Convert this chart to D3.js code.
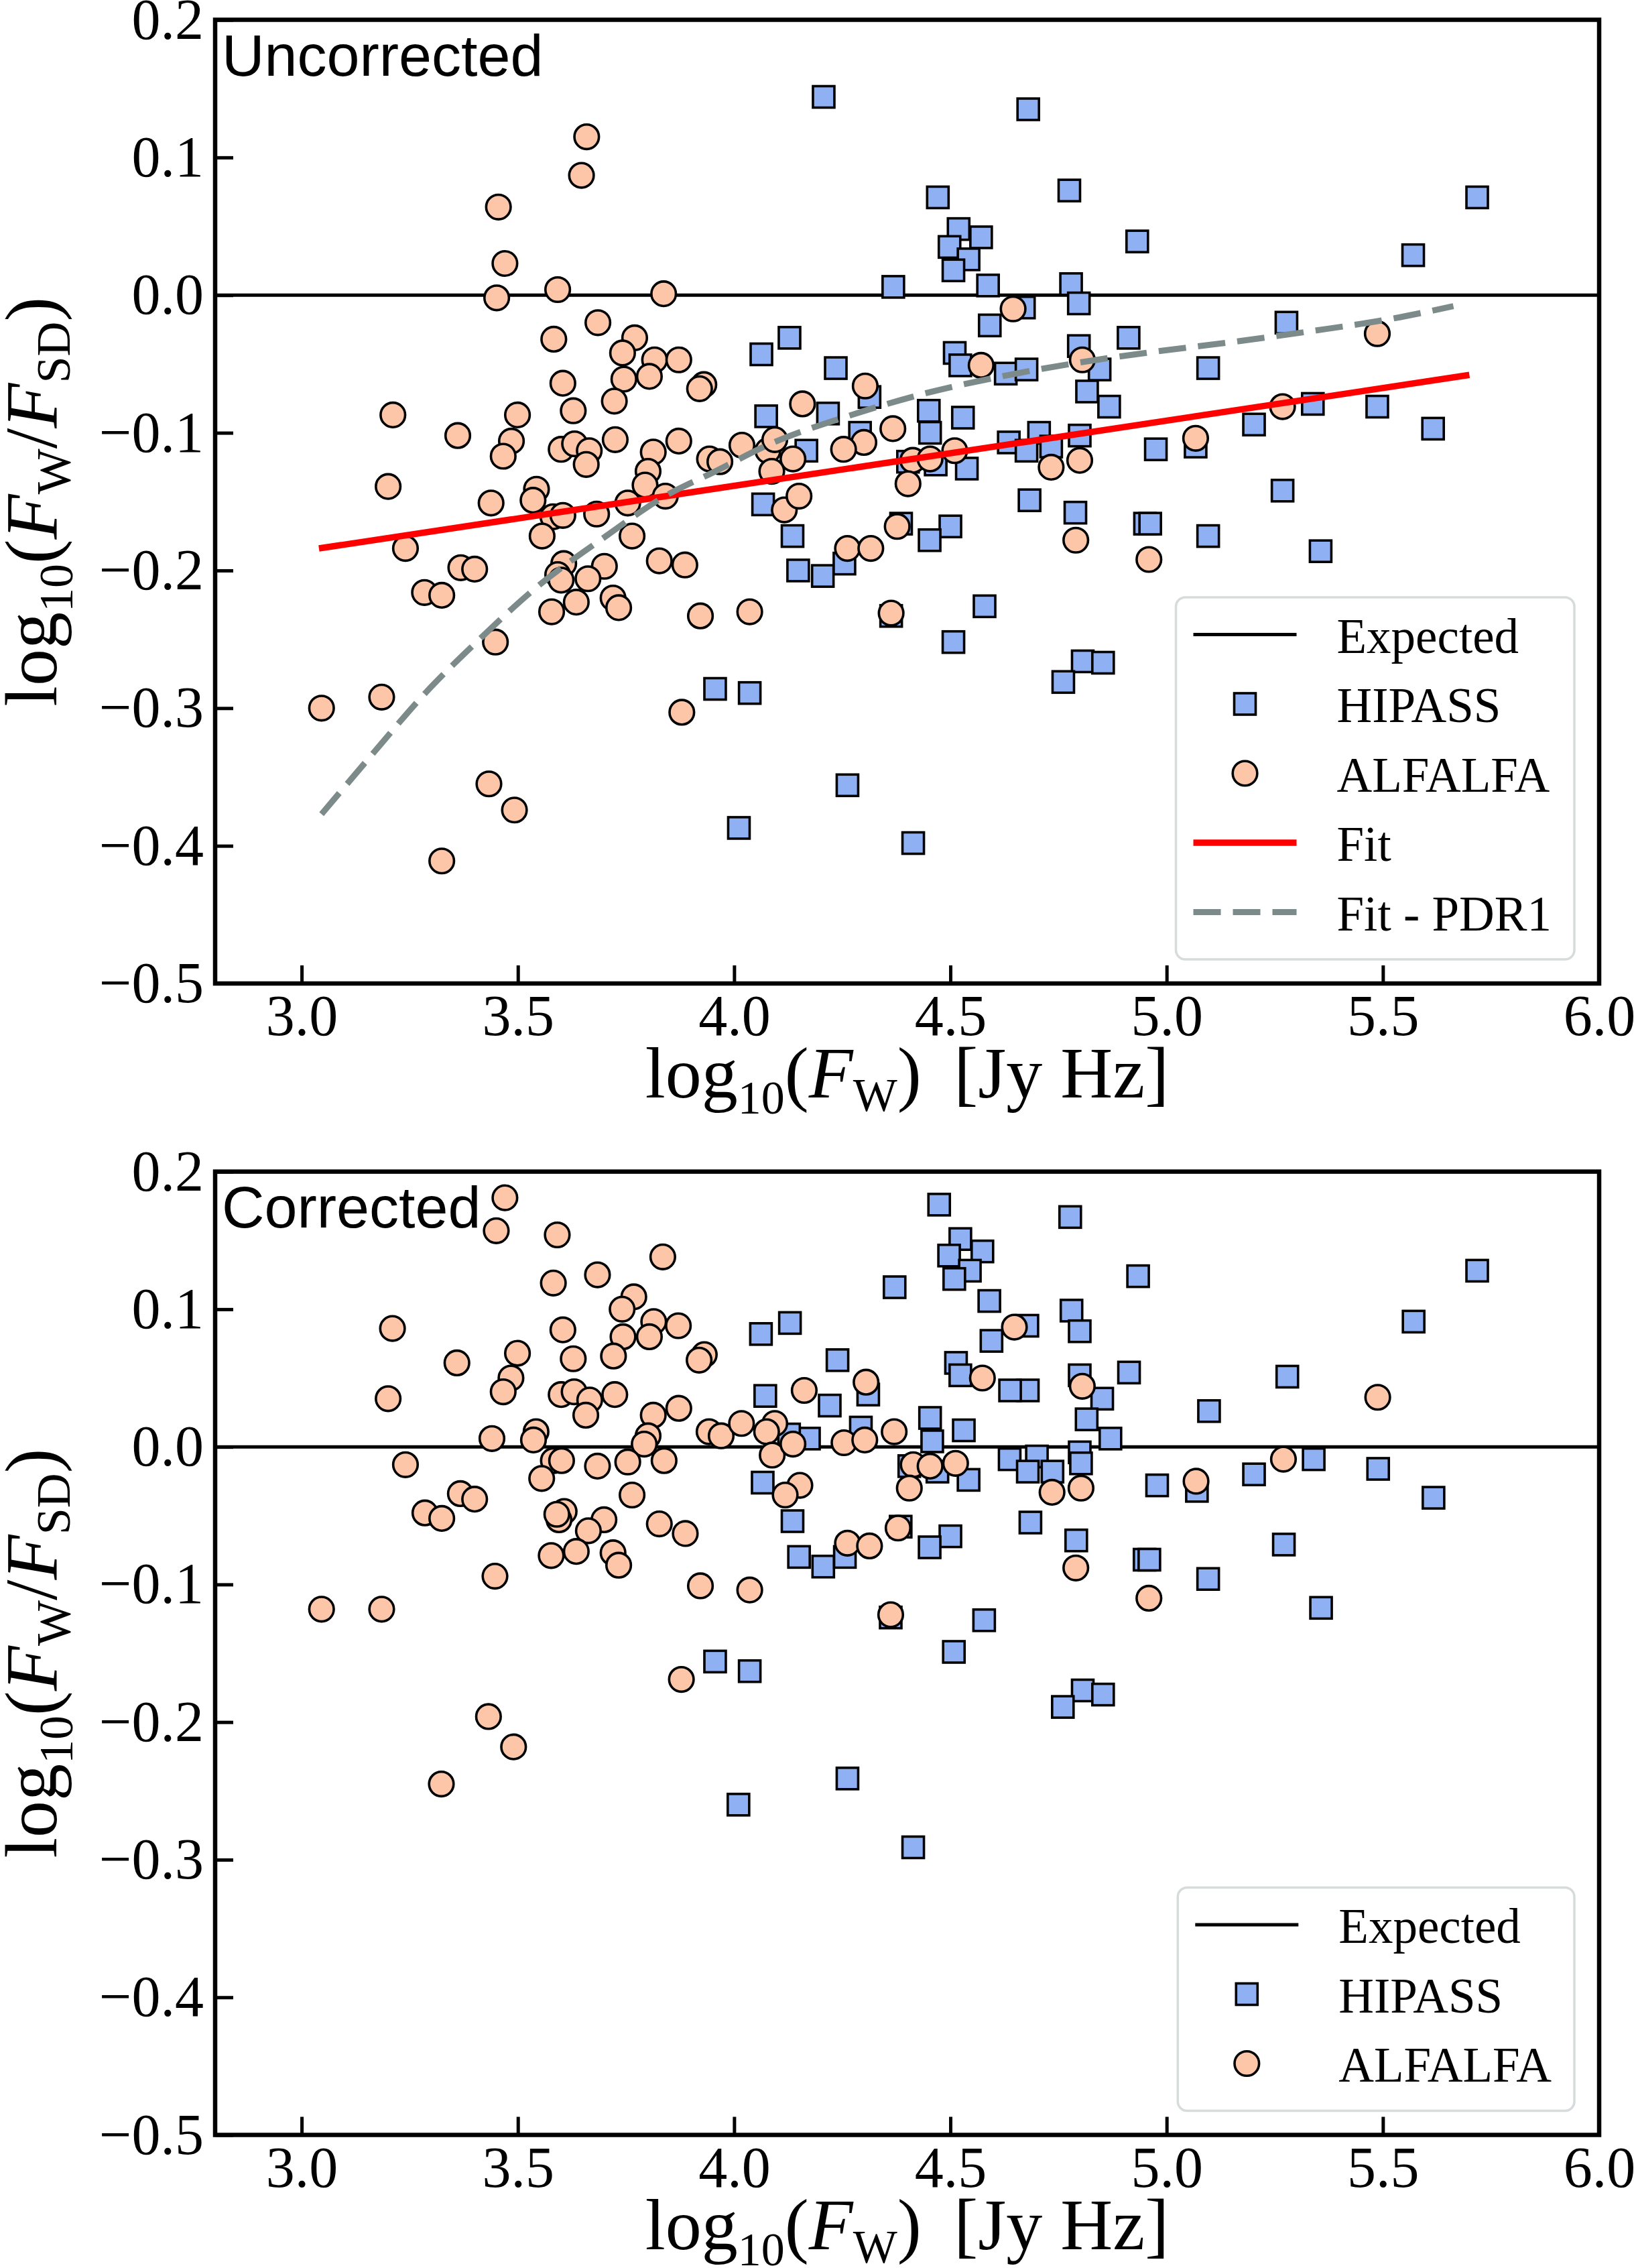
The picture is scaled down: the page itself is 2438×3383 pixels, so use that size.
<!DOCTYPE html>
<html><head><meta charset="utf-8">
<script src="https://cdn.jsdelivr.net/npm/d3@7"></script>
<style>html,body{margin:0;padding:0;background:#fff;}</style>
</head><body>
<svg id="chart" width="2438" height="3383" xmlns="http://www.w3.org/2000/svg"></svg>
<script>
// ---------------- DATA ----------------
const xTicks = [3.0, 3.5, 4.0, 4.5, 5.0, 5.5, 6.0];
const yTicks = [-0.5, -0.4, -0.3, -0.2, -0.1, 0.0, 0.1, 0.2];
const xDomain = [2.8, 6.0];
const yDomain = [-0.5, 0.2];

// [log10(F_W), log10(F_W/F_SD)] — top panel (uncorrected)
const hipassUncorrected = [[4.063,-0.043],[4.128,-0.031],[4.074,-0.088],[4.067,-0.152],[4.207,0.144],[4.680,0.135],[4.471,0.071],[4.775,0.076],[5.718,0.071],[4.932,0.039],[5.570,0.029],[4.519,0.048],[4.571,0.042],[4.498,0.035],[4.542,0.026],[4.507,0.018],[4.368,0.006],[4.587,0.007],[4.779,0.008],[4.797,-0.006],[4.670,-0.009],[4.591,-0.022],[4.510,-0.042],[4.523,-0.051],[4.797,-0.037],[4.912,-0.031],[5.277,-0.020],[4.235,-0.053],[4.628,-0.057],[4.676,-0.054],[4.845,-0.054],[5.096,-0.053],[4.816,-0.070],[4.313,-0.074],[4.217,-0.086],[4.867,-0.081],[4.450,-0.084],[4.529,-0.089],[5.202,-0.094],[5.338,-0.079],[5.487,-0.081],[5.616,-0.097],[4.291,-0.100],[4.453,-0.100],[4.705,-0.100],[4.799,-0.102],[4.635,-0.107],[4.733,-0.110],[4.975,-0.112],[5.067,-0.110],[4.676,-0.113],[4.167,-0.113],[4.402,-0.121],[4.466,-0.123],[4.538,-0.126],[5.268,-0.142],[4.683,-0.149],[4.789,-0.158],[4.135,-0.175],[4.148,-0.200],[3.956,-0.286],[4.036,-0.289],[4.011,-0.387],[4.205,-0.204],[4.255,-0.195],[4.386,-0.166],[4.500,-0.168],[4.452,-0.178],[4.950,-0.166],[4.962,-0.166],[5.096,-0.175],[5.356,-0.186],[4.579,-0.226],[4.363,-0.233],[4.507,-0.252],[4.806,-0.266],[4.853,-0.267],[4.761,-0.281],[4.262,-0.356],[4.414,-0.398]];

const alfalfaUncorrected = [[3.659,0.115],[3.647,0.087],[3.455,0.064],[3.470,0.023],[3.451,-0.002],[3.592,0.004],[3.837,0.001],[3.685,-0.020],[3.583,-0.032],[3.770,-0.031],[3.742,-0.042],[3.816,-0.047],[3.872,-0.047],[3.745,-0.061],[3.804,-0.059],[3.930,-0.065],[3.920,-0.068],[3.604,-0.064],[3.723,-0.077],[3.628,-0.084],[3.499,-0.087],[3.211,-0.087],[3.361,-0.102],[3.485,-0.106],[3.466,-0.117],[3.600,-0.112],[3.631,-0.108],[3.665,-0.113],[3.658,-0.123],[3.725,-0.105],[3.813,-0.114],[3.872,-0.106],[3.801,-0.128],[3.794,-0.138],[3.841,-0.146],[3.754,-0.151],[3.543,-0.141],[3.200,-0.139],[3.943,-0.119],[3.967,-0.121],[4.018,-0.109],[4.078,-0.113],[4.094,-0.105],[4.136,-0.119],[4.087,-0.128],[4.158,-0.079],[3.438,-0.151],[3.535,-0.149],[3.581,-0.161],[3.604,-0.160],[3.682,-0.159],[3.556,-0.175],[3.764,-0.175],[3.240,-0.184],[3.368,-0.198],[3.400,-0.199],[3.606,-0.195],[3.592,-0.203],[3.600,-0.207],[3.700,-0.197],[3.662,-0.206],[3.827,-0.193],[3.886,-0.196],[3.284,-0.216],[3.324,-0.218],[3.578,-0.230],[3.635,-0.223],[3.720,-0.220],[3.733,-0.227],[3.922,-0.233],[4.036,-0.230],[3.448,-0.252],[3.046,-0.300],[3.185,-0.292],[3.879,-0.303],[3.433,-0.355],[3.492,-0.374],[3.324,-0.411],[4.116,-0.156],[4.150,-0.146],[4.645,-0.010],[5.487,-0.028],[4.571,-0.051],[4.805,-0.047],[4.303,-0.066],[4.367,-0.097],[4.300,-0.107],[4.253,-0.112],[4.510,-0.113],[4.413,-0.120],[4.453,-0.119],[4.733,-0.125],[4.799,-0.120],[5.268,-0.081],[5.067,-0.104],[4.402,-0.137],[4.377,-0.168],[4.262,-0.184],[4.316,-0.184],[4.790,-0.178],[4.959,-0.192],[4.363,-0.231]];

// bottom panel (corrected)
const hipassCorrected = [[4.474,0.176],[4.523,0.151],[4.574,0.142],[4.497,0.139],[4.545,0.128],[4.509,0.122],[4.371,0.116],[4.590,0.106],[4.678,0.088],[4.595,0.077],[4.129,0.090],[4.062,0.082],[4.239,0.063],[4.513,0.061],[4.523,0.052],[4.072,0.037],[4.221,0.030],[4.310,0.038],[4.453,0.021],[4.531,0.012],[4.458,0.004],[4.293,0.014],[4.173,0.006],[4.127,0.009],[4.637,-0.009],[4.700,-0.007],[4.679,-0.018],[4.405,-0.014],[4.470,-0.018],[4.542,-0.024],[4.066,-0.026],[4.135,-0.054],[4.685,-0.055],[4.385,-0.058],[4.500,-0.065],[4.452,-0.073],[4.150,-0.080],[4.206,-0.087],[4.256,-0.080],[4.777,0.167],[4.934,0.124],[5.718,0.128],[4.780,0.099],[4.799,0.084],[5.571,0.091],[4.799,0.052],[4.913,0.054],[4.679,0.041],[4.638,0.041],[5.279,0.051],[4.851,0.035],[4.815,0.020],[5.098,0.026],[4.870,0.006],[4.736,-0.018],[4.799,-0.004],[4.802,-0.012],[5.340,-0.009],[5.489,-0.016],[5.617,-0.037],[5.202,-0.020],[4.978,-0.028],[5.070,-0.032],[4.791,-0.068],[5.271,-0.071],[4.949,-0.082],[4.960,-0.082],[5.096,-0.096],[4.362,-0.124],[3.956,-0.156],[4.036,-0.163],[4.262,-0.241],[4.010,-0.260],[4.414,-0.291],[4.578,-0.126],[4.508,-0.149],[5.357,-0.117],[4.806,-0.177],[4.853,-0.180],[4.760,-0.189]];

const alfalfaCorrected = [[3.470,0.181],[3.450,0.157],[3.591,0.154],[3.582,0.119],[3.684,0.125],[3.835,0.138],[3.768,0.109],[3.741,0.100],[3.210,0.086],[3.604,0.085],[3.814,0.091],[3.804,0.080],[3.743,0.080],[3.871,0.088],[3.359,0.061],[3.499,0.068],[3.628,0.064],[3.721,0.066],[3.484,0.050],[3.466,0.040],[3.200,0.035],[3.600,0.038],[3.630,0.040],[3.666,0.034],[3.657,0.023],[3.724,0.038],[3.813,0.023],[3.872,0.028],[3.801,0.008],[3.792,0.002],[3.440,0.006],[3.542,0.011],[3.536,0.005],[3.582,-0.010],[3.601,-0.010],[3.555,-0.023],[3.684,-0.014],[3.754,-0.011],[3.838,-0.010],[3.240,-0.013],[3.367,-0.034],[3.400,-0.038],[3.285,-0.048],[3.324,-0.052],[3.764,-0.035],[3.607,-0.047],[3.595,-0.053],[3.590,-0.049],[3.699,-0.053],[3.663,-0.061],[3.827,-0.056],[3.577,-0.079],[3.635,-0.076],[3.720,-0.077],[3.733,-0.086],[3.447,-0.094],[3.931,0.067],[3.919,0.063],[3.887,-0.063],[3.922,-0.101],[4.036,-0.104],[3.942,0.011],[3.970,0.008],[4.017,0.017],[4.094,0.017],[4.075,0.011],[4.088,-0.006],[4.136,0.002],[4.162,0.041],[4.305,0.047],[4.254,0.003],[4.302,0.005],[4.370,0.011],[4.152,-0.028],[4.118,-0.035],[4.262,-0.070],[4.313,-0.072],[4.379,-0.059],[4.414,-0.013],[4.453,-0.014],[4.512,-0.012],[4.405,-0.030],[4.574,0.050],[4.648,0.087],[4.805,0.044],[5.488,0.036],[5.270,-0.009],[5.068,-0.025],[4.735,-0.033],[4.802,-0.030],[4.790,-0.088],[4.959,-0.110],[3.046,-0.118],[3.185,-0.118],[4.362,-0.122],[3.878,-0.169],[3.432,-0.196],[3.490,-0.218],[3.323,-0.245]];

const fitLine = [[3.04,-0.184],[5.70,-0.058]];
const fitPDR1 = [[3.046,-0.377],[3.162,-0.334],[3.286,-0.289],[3.411,-0.250],[3.544,-0.212],[3.695,-0.177],[3.846,-0.145],[3.950,-0.129],[4.084,-0.108],[4.262,-0.088],[4.434,-0.072],[4.619,-0.059],[4.797,-0.049],[4.975,-0.041],[5.153,-0.034],[5.338,-0.026],[5.523,-0.017],[5.663,-0.008]];
const expectedValue = 0.0;

const panelTitles = ["Uncorrected", "Corrected"];
const legendTop = ["Expected", "HIPASS", "ALFALFA", "Fit", "Fit - PDR1"];
const legendBottom = ["Expected", "HIPASS", "ALFALFA"];

// ---------------- STYLE ----------------
const W = 2438, H = 3383;
const L = 321, R = 2386;
const SERIF = "'Liberation Serif','DejaVu Serif',serif";
const SANS = "'Liberation Sans',Arial,Helvetica,sans-serif";
const BLUE = "#8fb0f3", PEACH = "#fdc6a9", RED = "#ff0000", GREY = "#7c8a8a";

const svg = d3.select("#chart");
svg.append("rect").attr("width", W).attr("height", H).attr("fill", "#fff");

const x = d3.scaleLinear().domain(xDomain).range([L, R]);

const panels = [
  {top: 29.5, bottom: 1467, title: panelTitles[0], hip: hipassUncorrected, alf: alfalfaUncorrected, fits: true, legend: legendTop},
  {top: 1747.6, bottom: 3184.5, title: panelTitles[1], hip: hipassCorrected, alf: alfalfaCorrected, fits: false, legend: legendBottom}
];

panels.forEach((p, pi) => {
  const y = d3.scaleLinear().domain(yDomain).range([p.bottom, p.top]);
  const g = svg.append("g");
  const clipId = "clip" + pi;
  g.append("clipPath").attr("id", clipId).append("rect")
    .attr("x", L).attr("y", p.top).attr("width", R - L).attr("height", p.bottom - p.top);
  const data = g.append("g").attr("clip-path", `url(#${clipId})`);

  // expected line
  data.append("line")
    .attr("x1", x(xDomain[0])).attr("x2", x(xDomain[1]))
    .attr("y1", y(expectedValue)).attr("y2", y(expectedValue))
    .attr("stroke", "#000").attr("stroke-width", 5);

  const sq = 32;
  data.append("g").selectAll("rect").data(p.hip).join("rect")
    .attr("x", d => x(d[0]) - sq / 2).attr("y", d => y(d[1]) - sq / 2)
    .attr("width", sq).attr("height", sq)
    .attr("fill", BLUE).attr("stroke", "#000").attr("stroke-width", 3.6);

  data.append("g").selectAll("circle").data(p.alf).join("circle")
    .attr("cx", d => x(d[0])).attr("cy", d => y(d[1])).attr("r", 18.3)
    .attr("fill", PEACH).attr("stroke", "#000").attr("stroke-width", 3.6);

  if (p.fits) {
    const line = d3.line().x(d => x(d[0])).y(d => y(d[1]));
    data.append("path").datum(fitLine).attr("d", line)
      .attr("fill", "none").attr("stroke", RED).attr("stroke-width", 9.5);
    data.append("path").datum(fitPDR1).attr("d", line.curve(d3.curveMonotoneX))
      .attr("fill", "none").attr("stroke", GREY).attr("stroke-width", 9)
      .attr("stroke-dasharray", "41,18");
  }

  // axes
  const xAxis = d3.axisBottom(x).tickValues(xTicks).tickFormat(d3.format(".1f"))
    .tickSize(-27).tickSizeOuter(0).tickPadding(16);
  const gx = g.append("g").attr("transform", `translate(0,${p.bottom})`).call(xAxis);
  const yAxis = d3.axisLeft(y).tickValues(yTicks).tickFormat(d3.format(".1f"))
    .tickSize(-27).tickSizeOuter(0).tickPadding(17);
  const gy = g.append("g").attr("transform", `translate(${L},0)`).call(yAxis);
  [gx, gy].forEach(a => {
    a.select(".domain").remove();
    a.attr("font-family", SERIF).attr("font-size", 86);
    a.selectAll("line").attr("stroke", "#000").attr("stroke-width", 5);
    a.selectAll("text").attr("fill", "#000");
  });

  // frame
  g.append("rect").attr("x", L).attr("y", p.top).attr("width", R - L).attr("height", p.bottom - p.top)
    .attr("fill", "none").attr("stroke", "#000").attr("stroke-width", 6.5);

  // title
  g.append("text").attr("x", 331).attr("y", p.top + 83.5)
    .attr("font-family", SANS).attr("font-size", 88).attr("fill", "#000").text(p.title);

  // x label
  const xl = g.append("text").attr("x", (L + R) / 2).attr("y", p.bottom + 170)
    .attr("text-anchor", "middle").attr("font-family", SERIF).attr("font-size", 108).attr("fill", "#000");
  xl.append("tspan").text("log");
  xl.append("tspan").attr("font-size", 70).attr("dy", 24).text("10");
  xl.append("tspan").attr("dy", -24).text("(");
  xl.append("tspan").attr("font-style", "italic").text("F");
  xl.append("tspan").attr("font-size", 70).attr("dy", 20).text("W");
  xl.append("tspan").attr("dy", -20).text(")\u00a0\u2009[Jy Hz]");

  // y label
  const cy = (p.top + p.bottom) / 2;
  const yl = g.append("text").attr("transform", `translate(84,${cy}) rotate(-90)`)
    .attr("text-anchor", "middle").attr("font-family", SERIF).attr("font-size", 110).attr("fill", "#000");
  yl.append("tspan").text("log");
  yl.append("tspan").attr("font-size", 72).attr("dy", 24).text("10");
  yl.append("tspan").attr("dy", -24).text("(");
  yl.append("tspan").attr("font-style", "italic").text("F");
  yl.append("tspan").attr("font-size", 72).attr("dy", 20).text("W");
  yl.append("tspan").attr("dy", -20).text("/");
  yl.append("tspan").attr("font-style", "italic").text("F");
  yl.append("tspan").attr("font-size", 72).attr("dy", 20).text("SD");
  yl.append("tspan").attr("dy", -20).text(")");

  // legend
  const n = p.legend.length;
  const boxR = R - 37, boxB = p.bottom - 36;
  const boxH = 126 + 103.5 * (n - 1);
  const lg = g.append("g");
  const boxRect = lg.append("rect");
  const items = lg.append("g");
  const texts = [];
  p.legend.forEach((lab, i) => {
    const t = items.append("text").attr("font-family", SERIF).attr("font-size", 73)
      .attr("fill", "#000").text(lab);
    texts.push(t);
  });
  const maxW = d3.max(texts, t => t.node().getComputedTextLength());
  const boxW = 240 + maxW + 34;
  const boxL = boxR - boxW, boxT = boxB - boxH;
  boxRect.attr("x", boxL).attr("y", boxT).attr("width", boxW).attr("height", boxH)
    .attr("rx", 14).attr("fill", "#fff").attr("fill-opacity", 0.85)
    .attr("stroke", "#d6dbdb").attr("stroke-width", 3.5);
  p.legend.forEach((lab, i) => {
    const yy = boxT + 55.5 + 103.5 * i;
    texts[i].attr("x", boxL + 240).attr("y", yy + 27);
    const mx = boxL + 103;
    if (lab === "Expected") {
      items.append("line").attr("x1", boxL + 26).attr("x2", boxL + 180).attr("y1", yy).attr("y2", yy)
        .attr("stroke", "#000").attr("stroke-width", 5);
    } else if (lab === "HIPASS") {
      items.append("rect").attr("x", mx - 16).attr("y", yy - 16).attr("width", 32).attr("height", 32)
        .attr("fill", BLUE).attr("stroke", "#000").attr("stroke-width", 3.6);
    } else if (lab === "ALFALFA") {
      items.append("circle").attr("cx", mx).attr("cy", yy).attr("r", 18.3)
        .attr("fill", PEACH).attr("stroke", "#000").attr("stroke-width", 3.6);
    } else if (lab === "Fit") {
      items.append("line").attr("x1", boxL + 26).attr("x2", boxL + 180).attr("y1", yy).attr("y2", yy)
        .attr("stroke", RED).attr("stroke-width", 9.5);
    } else {
      items.append("line").attr("x1", boxL + 26).attr("x2", boxL + 180).attr("y1", yy).attr("y2", yy)
        .attr("stroke", GREY).attr("stroke-width", 9).attr("stroke-dasharray", "41,18");
    }
  });
});
</script>
</body></html>
